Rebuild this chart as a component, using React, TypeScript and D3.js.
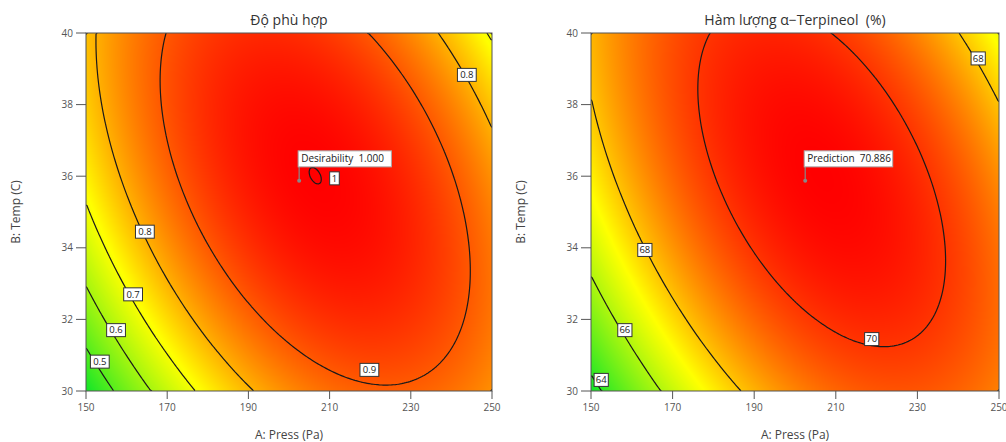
import React, { useMemo } from 'react'
import * as d3 from 'd3'

// axes (A: Press, B: Temp)
const pressTicks = [150, 170, 190, 210, 230, 250]
const tempTicks = [30, 32, 34, 36, 38, 40]

// quadratic model in coded units: [b0, A, B, AB, A^2, B^2]
const desirabilityCoef = [0.9894, 0.0819, 0.054, -0.1285, -0.2163, -0.0923]
const terpineolCoef = [70.5876, 1.0265, 0.65, -1.6521, -2.6111, -1.0453]

const desirabilityLevels = [0.5, 0.6, 0.7, 0.8, 0.9, 1]
const terpineolLevels = [64, 66, 68, 70]

// contour labels: [text, press, temp]
const desirabilityLabels: [string, number, number][] = [
  ['0.8', 243.8, 38.83],
  ['0.8', 164.5, 34.45],
  ['0.7', 161.6, 32.7],
  ['0.6', 157.4, 31.7],
  ['0.5', 153.4, 30.82],
  ['0.9', 219.8, 30.59],
  ['1', 211.2, 35.94],
]
const terpineolLabels: [string, number, number][] = [
  ['68', 244.9, 39.29],
  ['68', 163.2, 33.94],
  ['66', 158.3, 31.7],
  ['64', 152.5, 30.31],
  ['70', 218.8, 31.45],
]

// selected optimum point
const optPress = 202.5
const optTemp = 35.87

const FONT = "'Open Sans', 'Noto Sans', sans-serif"
const TOP = 33
const BOTTOM = 391
const NX = 200
const NY = 180

function predict(c: number[], p: number, t: number) {
  const a = (p - 200) / 50
  const b = (t - 35) / 5
  return c[0] + c[1] * a + c[2] * b + c[3] * a * b + c[4] * a * a + c[5] * b * b
}

type PanelProps = {
  left: number
  right: number
  title: string
  coef: number[]
  levels: number[]
  labels: [string, number, number][]
  flagText: string
}

function Panel({ left, right, title, coef, levels, labels, flagText }: PanelProps) {
  const x = d3.scaleLinear().domain([150, 250]).range([left, right])
  const y = d3.scaleLinear().domain([30, 40]).range([BOTTOM, TOP])
  const w = right - left
  const h = BOTTOM - TOP

  const { href, paths } = useMemo(() => {
    // grid for contours, sample i sits at coordinate i + 0.5
    const grid: number[] = []
    for (let j = 0; j < NY; j++) {
      const t = 40 - ((j + 0.5) * 10) / NY
      for (let i = 0; i < NX; i++) grid.push(predict(coef, 150 + ((i + 0.5) * 100) / NX, t))
    }
    const lo = d3.min(grid) as number
    const hi = d3.max(grid) as number
    const color = d3
      .scaleLinear<string>()
      .domain([lo, (lo + hi) / 2, hi])
      .range(['#14e628', '#ffff00', '#ff0000'])
      .clamp(true)

    // colour field
    const canvas = document.createElement('canvas')
    canvas.width = w
    canvas.height = h
    const ctx = canvas.getContext('2d')!
    const img = ctx.createImageData(w, h)
    for (let py = 0; py < h; py++) {
      const t = y.invert(TOP + py + 0.5)
      for (let px = 0; px < w; px++) {
        const c = d3.rgb(color(predict(coef, x.invert(left + px + 0.5), t)))
        const k = (py * w + px) * 4
        img.data[k] = c.r
        img.data[k + 1] = c.g
        img.data[k + 2] = c.b
        img.data[k + 3] = 255
      }
    }
    ctx.putImageData(img, 0, 0)

    // contour lines, dropping the segments that run along the frame
    const eps = 1e-6
    const onEdge = (p: number[], q: number[]) =>
      (p[0] <= eps && q[0] <= eps) ||
      (p[0] >= NX - eps && q[0] >= NX - eps) ||
      (p[1] <= eps && q[1] <= eps) ||
      (p[1] >= NY - eps && q[1] >= NY - eps)
    const gx = (v: number) => x(150 + (v * 100) / NX)
    const gy = (v: number) => y(40 - (v * 10) / NY)

    const paths = d3
      .contours()
      .size([NX, NY])
      .thresholds(levels)(grid)
      .map((c) => {
        let d = ''
        c.coordinates.forEach((poly) =>
          poly.forEach((ring) => {
            let pen = false
            for (let k = 1; k < ring.length; k++) {
              const p = ring[k - 1]
              const q = ring[k]
              if (onEdge(p, q)) {
                pen = false
                continue
              }
              if (!pen) {
                d += `M${gx(p[0]).toFixed(2)},${gy(p[1]).toFixed(2)}`
                pen = true
              }
              d += `L${gx(q[0]).toFixed(2)},${gy(q[1]).toFixed(2)}`
            }
          })
        )
        return d
      })
    return { href: canvas.toDataURL(), paths }
  }, [left, right])

  const cx = (left + right) / 2
  const fx = x(optPress)
  const fy = y(optTemp)
  const flagW = flagText.length * 4.75 + 3

  return (
    <g fontFamily={FONT}>
      <clipPath id={`clip${left}`}>
        <rect x={left} y={TOP} width={w} height={h} />
      </clipPath>
      <image href={href} x={left} y={TOP} width={w} height={h} preserveAspectRatio="none" />
      <g clipPath={`url(#clip${left})`}>
        {paths.map((d, i) => (
          <path key={i} d={d} fill="none" stroke="#1a1a1a" strokeWidth={1.2} />
        ))}
      </g>
      <rect x={left} y={TOP} width={w} height={h} fill="none" stroke="#555" />

      {labels.map(([txt, p, t], i) => {
        const bw = txt.length * 4.6 + 5
        return (
          <g key={i} transform={`translate(${x(p)},${y(t)})`}>
            <rect x={-bw / 2} y={-6.5} width={bw} height={13} fill="#fff" stroke="#333" />
            <text textAnchor="middle" y={3.3} fontSize={9.5} fill="#222">
              {txt}
            </text>
          </g>
        )
      })}

      <line x1={fx} x2={fx} y1={fy} y2={fy - 15} stroke="#888" strokeWidth={1.2} />
      <circle cx={fx} cy={fy} r={2} fill="#888" />
      <rect x={fx - 1} y={fy - 30} width={flagW} height={16} fill="#fff" stroke="#aaa" />
      <text x={fx + 2} y={fy - 18.5} fontSize={10} fill="#222" style={{ whiteSpace: 'pre' }}>
        {flagText}
      </text>

      <text x={cx} y={25} textAnchor="middle" fontSize={14} fill="#333" style={{ whiteSpace: 'pre' }}>
        {title}
      </text>

      {pressTicks.map((v) => (
        <g key={v}>
          <line x1={x(v)} x2={x(v)} y1={BOTTOM} y2={BOTTOM + 8} stroke="#555" />
          <text x={x(v)} y={BOTTOM + 20} textAnchor="middle" fontSize={10} fill="#555">
            {v}
          </text>
        </g>
      ))}
      {tempTicks.map((v) => (
        <g key={v}>
          <line x1={left - 10} x2={left} y1={y(v)} y2={y(v)} stroke="#555" />
          <text x={left - 13} y={y(v) + 3.5} textAnchor="end" fontSize={10} fill="#555">
            {v}
          </text>
        </g>
      ))}
      <text x={cx} y={439} textAnchor="middle" fontSize={12} fill="#444">
        A: Press (Pa)
      </text>
      <text
        transform={`translate(${left - 66},${(TOP + BOTTOM) / 2}) rotate(-90)`}
        textAnchor="middle"
        fontSize={12}
        fill="#444"
      >
        B: Temp (C)
      </text>
    </g>
  )
}

export default function App() {
  return (
    <svg width={1006} height={442} style={{ position: 'absolute', left: 0, top: 0, background: '#fff' }}>
      <Panel
        left={86}
        right={492}
        title="Độ phù hợp"
        coef={desirabilityCoef}
        levels={desirabilityLevels}
        labels={desirabilityLabels}
        flagText="Desirability  1.000"
      />
      <Panel
        left={591}
        right={999}
        title="Hàm lượng α−Terpineol  (%)"
        coef={terpineolCoef}
        levels={terpineolLevels}
        labels={terpineolLabels}
        flagText="Prediction  70.886"
      />
    </svg>
  )
}
